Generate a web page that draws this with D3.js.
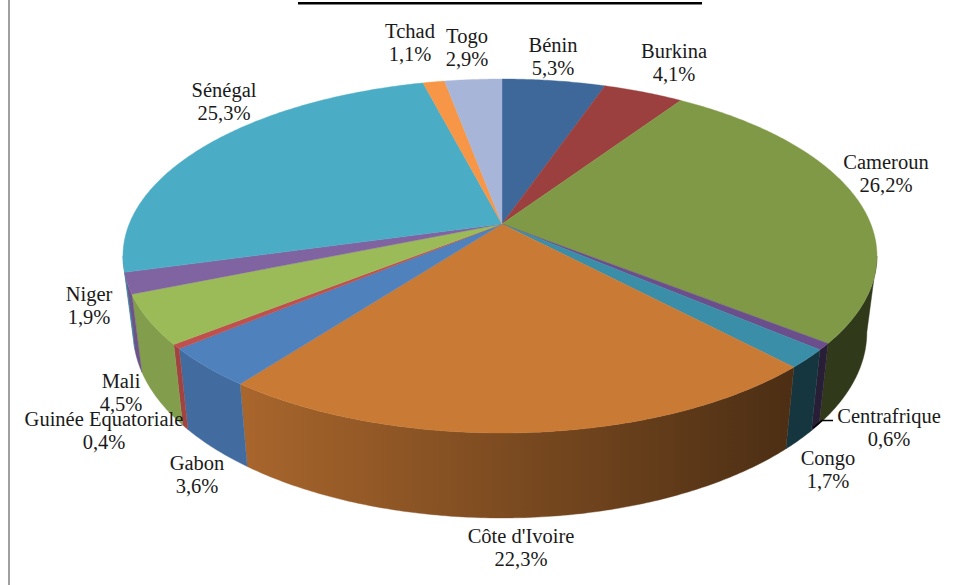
<!DOCTYPE html>
<html>
<head>
<meta charset="utf-8">
<script src="https://cdn.jsdelivr.net/npm/d3@7"></script>
<style>
  html, body { margin: 0; padding: 0; background: #fff; }
  svg { display: block; }
  text { font-family: "Liberation Serif", serif; font-size: 20.5px; fill: #1a1a1a; text-anchor: middle; }
</style>
</head>
<body>
<div id="chart"></div>
<script>
var countries = ["Bénin", "Burkina", "Cameroun", "Centrafrique", "Congo", "Côte d'Ivoire", "Gabon",
    "Guinée Equatoriale", "Mali", "Niger", "Sénégal", "Tchad", "Togo"];
var shares = [5.3, 4.1, 26.2, 0.6, 1.7, 22.3, 3.6, 0.4, 4.5, 1.9, 25.3, 1.1, 2.9];
var colors = ["#3d6899", "#9b403e", "#7f9946", "#6a4f8c", "#3a8ea7", "#c97a35", "#4f81bd",
    "#c0504d", "#9bbb59", "#8064a2", "#4bacc6", "#f79646", "#a6b5d8"];

// label centre x and first line baseline, same order as countries
var labelX = [553, 674, 886, 889, 828, 521, 197, 104, 121, 89, 224, 410, 467];
var labelY = [52, 58, 169, 423, 465, 543, 470, 426, 388, 301, 97, 38, 43];

var width = 979, height = 585;
var svg = d3.select("#chart").append("svg").attr("width", width).attr("height", height);
var defs = svg.append("defs");

// pie is seen in perspective, so the circle goes through a projective map
var cx = 502, cy = 224, k = 0.1808, axRight = 368.8, axLeft = 372.8, ay = 171.2;
var shrink = 0.973, frontY = 433, frontDrop = 85, dropSlope = 0.05;

// angles of the left and right edge of the top face, the wall only shows between them
var wallStart = Math.acos(-k);
var wallEnd = 2 * Math.PI - wallStart;

function topPoint(angle) {
    var v = Math.sin(angle), u = -Math.cos(angle), w = 1 - k * u;
    return [cx + (v < 0 ? axLeft : axRight) * v / w, cy + ay * u / w];
}
function bottomPoint(angle) {
    var p = topPoint(angle);
    return [cx + (p[0] - cx) * shrink, p[1] + frontDrop + (p[1] - frontY) * dropSlope];
}
function arcAngles(a0, a1) {
    var n = Math.max(2, Math.ceil((a1 - a0) / 0.01));
    return d3.range(n + 1).map(function (i) {
        return a0 + (a1 - a0) * i / n;
    });
}

var line = d3.line();
var pie = d3.pie().sort(null).value(function (d) { return d.share; });
var rows = countries.map(function (c, i) {
    return { name: c, share: shares[i], color: colors[i], lx: labelX[i], ly: labelY[i] };
});
var slices = pie(rows);

// side walls get darker from left to right
var shade = d3.scaleLinear().domain([240, 790]).range([0.84, 0.38]).clamp(true);
function darker(color, x) {
    var c = d3.rgb(color), f = shade(x);
    return d3.rgb(c.r * f, c.g * f, c.b * f).formatHex();
}

var walls = slices.filter(function (d) {
    return d.endAngle > wallStart && d.startAngle < wallEnd;
}).map(function (d, i) {
    var angles = arcAngles(Math.max(d.startAngle, wallStart), Math.min(d.endAngle, wallEnd));
    var xs = angles.map(function (a) { return topPoint(a)[0]; });
    var x0 = d3.min(xs), x1 = d3.max(xs);
    var grad = defs.append("linearGradient")
        .attr("id", "side" + i)
        .attr("gradientUnits", "userSpaceOnUse")
        .attr("x1", x0).attr("x2", x1 + 0.01).attr("y1", 0).attr("y2", 0);
    d3.range(9).forEach(function (j) {
        grad.append("stop")
            .attr("offset", j / 8)
            .attr("stop-color", darker(d.data.color, x0 + (x1 - x0) * j / 8));
    });
    return {
        id: "side" + i,
        points: angles.map(topPoint).concat(angles.slice().reverse().map(bottomPoint))
    };
});

// border on the left and the underline of the cut off title
svg.append("rect").attr("x", 8).attr("y", 0).attr("width", 2).attr("height", height).attr("fill", "#a0a0a0");
svg.append("rect").attr("x", 298).attr("y", 2).attr("width", 404).attr("height", 2.5).attr("fill", "#000");

svg.append("g").selectAll("path")
    .data(walls)
    .enter()
    .append("path")
    .attr("d", function (d) { return line(d.points) + "Z"; })
    .attr("fill", function (d) { return "url(#" + d.id + ")"; })
    .attr("stroke", function (d) { return "url(#" + d.id + ")"; })
    .attr("stroke-width", 0.4);

svg.append("g").selectAll("path")
    .data(slices)
    .enter()
    .append("path")
    .attr("d", function (d) {
        return line([[cx, cy]].concat(arcAngles(d.startAngle, d.endAngle).map(topPoint))) + "Z";
    })
    .attr("fill", function (d) { return d.data.color; })
    .attr("stroke", function (d) { return d.data.color; })
    .attr("stroke-width", 0.4);

// leader line of Centrafrique
svg.append("path")
    .attr("d", line([[813, 428], [822, 420.5], [833, 420.5]]))
    .attr("fill", "none")
    .attr("stroke", "#000")
    .attr("stroke-width", 1.5);

var labels = svg.append("g").selectAll("text")
    .data(rows)
    .enter()
    .append("text");
labels.append("tspan")
    .attr("x", function (d) { return d.lx; })
    .attr("y", function (d) { return d.ly; })
    .text(function (d) { return d.name; });
labels.append("tspan")
    .attr("x", function (d) { return d.lx; })
    .attr("y", function (d) { return d.ly + 23; })
    .text(function (d) { return d.share.toFixed(1).replace(".", ",") + "%"; });
</script>
</body>
</html>
